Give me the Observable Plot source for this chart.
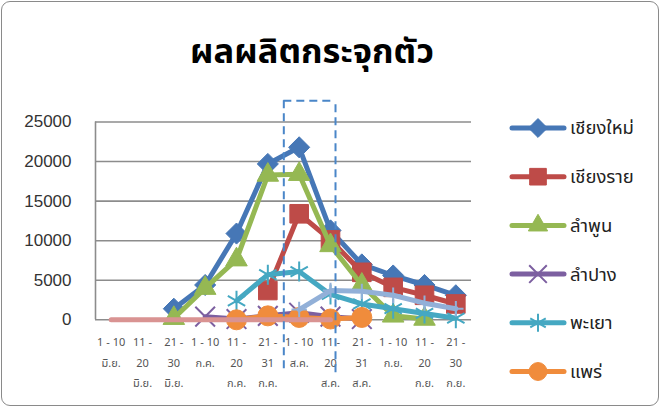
<!DOCTYPE html>
<html>
<head>
<meta charset="utf-8">
<script src="https://cdn.jsdelivr.net/npm/d3@7"></script>
<script src="https://cdn.jsdelivr.net/npm/@observablehq/plot@0.6"></script>
<style>
  html, body { margin: 0; padding: 0; background: #fff; }
  #wrap { position: relative; width: 663px; height: 410px; overflow: hidden; font-family: "Liberation Sans", Arial, sans-serif; }
  #frame { position: absolute; left: 1px; top: 1px; width: 658px; height: 405px; border: 1.5px solid #8a8a8a; border-radius: 9px; box-sizing: border-box; }
  #title { position: absolute; left: 0; width: 624px; top: 26px; text-align: center; font-size: 34.5px; font-weight: bold; color: #000; font-family: Tahoma, "Noto Sans Thai", "Leelawadee UI", "DejaVu Sans", sans-serif; }
  #chart { position: absolute; left: 0; top: 0; }
  #legend { position: absolute; left: 505px; top: 104px; }
</style>
</head>
<body>
<div id="wrap">
  <div id="frame"></div>
  <div id="chart"></div>
  <div id="title">ผลผลิตกระจุกตัว</div>
  <div id="legend"></div>
</div>
<script>
// ---- data ----
const categories = [
  "1 - 10\nมิ.ย.", "11 -\n20\nมิ.ย.", "21 -\n30\nมิ.ย.",
  "1 - 10\nก.ค.", "11 -\n20\nก.ค.", "21 -\n31\nก.ค.",
  "1 - 10\nส.ค.", "11 -\n20\nส.ค.", "21 -\n31\nส.ค.",
  "1 - 10\nก.ย.", "11 -\n20\nก.ย.", "21 -\n30\nก.ย."
];
const seriesNames = ["เชียงใหม่", "เชียงราย", "ลำพูน", "ลำปาง", "พะเยา", "แพร่", "ชุด 7", "ชุด 8"];
const chiangMai  = [null, null, 1400, 4400, 10900, 19700, 21800, 11300, 7000, 5600, 4400, 3100];
const chiangRai  = [null, null, null, null, null, 3700, 13400, 10100, 6000, 4100, 3100, 2000];
const lamphun    = [null, null, 200, 4000, 7600, 18300, 18400, 9400, 4400, 500, 100, null];
const lampang    = [null, null, null, 400, 100, 500, 900, 400, 100, null, null, null];
const phayao     = [null, null, null, null, 2400, 5700, 6100, 3200, 2000, 1400, 800, 200];
const phrae      = [null, null, null, null, 0, 500, 300, 100, 300, null, null, null];
const series7    = [null, null, null, null, null, null, 1300, 3700, 3600, 3100, 2100, 1400];
const series8    = [0, 0, 0, 0, 0, 0, 0, 0, null, null, null, null];
const yTicks = [0, 5000, 10000, 15000, 20000, 25000];
// highlighted period (dashed box) in category-index units and value units
const highlight = { x1: 5.51, x2: 7.16, top: 27700, bottomLeft: -6200, bottomRight: -6700 };

const allValues = [chiangMai, chiangRai, lamphun, lampang, phayao, phrae, series7, series8];
const colors  = ["#4677b6", "#be4b48", "#95b853", "#7c5fa0", "#45a8c2", "#f08c3c", "#92b0d8", "#d99392"];
const symbols = ["diamond2", "square", "triangle", "times", "asterisk", "circle", "plus", null];
const radii   = [9.5, 10.5, 8, 9, 9.5, 10, 5, 0];
const inLegend = [true, true, true, true, true, true, false, false];

const rows = (k) => allValues[k].map((v, i) => ({ i, v }));

const marks = [
  Plot.gridY(yTicks, { stroke: "#8c8c8c", strokeOpacity: 1, strokeWidth: 1.6 }),
  Plot.ruleX([-0.5], { y1: 0, y2: 25000, stroke: "#8c8c8c", strokeWidth: 1.6 }),
  Plot.axisY({ ticks: yTicks, tickSize: 0, tickPadding: 24, fontSize: 17, tickFormat: d3.format("d"),
    label: null, fill: "#333", fontFamily: "'Liberation Sans', Arial, sans-serif" }),
  Plot.axisX({ ticks: d3.range(categories.length), tickFormat: (i) => categories[i], tickSize: 0,
    tickPadding: 11, fontSize: 11, lineHeight: 1.9, label: null, fill: "#555" })
];

allValues.forEach((vals, k) => {
  const data = rows(k);
  marks.push(Plot.line(data, { x: "i", y: "v", stroke: colors[k], strokeWidth: 5,
    strokeLinecap: "round", strokeLinejoin: "round" }));
  if (symbols[k]) {
    const stroked = ["times", "asterisk", "plus"].includes(symbols[k]);
    const pts = data.filter(d => d.v != null);
    marks.push(Plot.dot(pts, stroked
      ? { x: "i", y: "v", symbol: () => symbols[k], r: radii[k], stroke: colors[k], strokeWidth: 2 }
      : { x: "i", y: "v", symbol: () => symbols[k], r: radii[k], fill: colors[k], stroke: colors[k], strokeWidth: 1 }));
  }
});

// dashed highlight box (top, left, right edges)
marks.push(
  Plot.ruleY([highlight.top], { x1: highlight.x1, x2: highlight.x2, stroke: "#4a86c8", strokeWidth: 2, strokeDasharray: "8,5" }),
  Plot.ruleX([highlight.x1], { y1: highlight.bottomLeft, y2: highlight.top, stroke: "#4a86c8", strokeWidth: 2, strokeDasharray: "8,5" }),
  Plot.ruleX([highlight.x2], { y1: highlight.bottomRight, y2: highlight.top, stroke: "#4a86c8", strokeWidth: 2, strokeDasharray: "8,5" })
);

const chart = Plot.plot({
  width: 663, height: 410,
  marginLeft: 95, marginRight: 192, marginTop: 121.5, marginBottom: 90.7,
  x: { domain: [-0.5, categories.length - 0.5] },
  y: { domain: [0, 25000] },
  symbol: { type: "identity" },
  style: { fontFamily: "Tahoma, 'Noto Sans Thai', 'Liberation Sans', sans-serif", background: "transparent", overflow: "visible" },
  marks
});
document.getElementById("chart").appendChild(chart);

// legend
const leg = d3.select("#legend").append("svg").attr("width", 155).attr("height", 290);
const symMap = { diamond2: d3.symbolDiamond2, square: d3.symbolSquare, triangle: d3.symbolTriangle,
  times: d3.symbolTimes, asterisk: d3.symbolAsterisk, circle: d3.symbolCircle, plus: d3.symbolPlus };
let row = 0;
seriesNames.forEach((name, k) => {
  if (!inLegend[k]) return;
  const y = 24 + row * 48.7;
  const g = leg.append("g").attr("transform", `translate(0,${y})`);
  g.append("line").attr("x1", 7).attr("x2", 59).attr("y1", 0).attr("y2", 0)
    .attr("stroke", colors[k]).attr("stroke-width", 5).attr("stroke-linecap", "round");
  const stroked = ["times", "asterisk", "plus"].includes(symbols[k]);
  const size = radii[k] * radii[k] * Math.PI * 0.8;
  g.append("path").attr("transform", "translate(33,0)")
    .attr("d", d3.symbol(symMap[symbols[k]], size)())
    .attr("fill", stroked ? "none" : colors[k])
    .attr("stroke", colors[k]).attr("stroke-width", stroked ? 2 : 1);
  g.append("text").attr("x", 65).attr("y", 0).attr("dy", "0.35em")
    .attr("font-size", 18.5).attr("fill", "#222")
    .attr("font-family", "Tahoma, 'Noto Sans Thai', 'Liberation Sans', sans-serif")
    .text(name);
  row++;
});
</script>
</body>
</html>
